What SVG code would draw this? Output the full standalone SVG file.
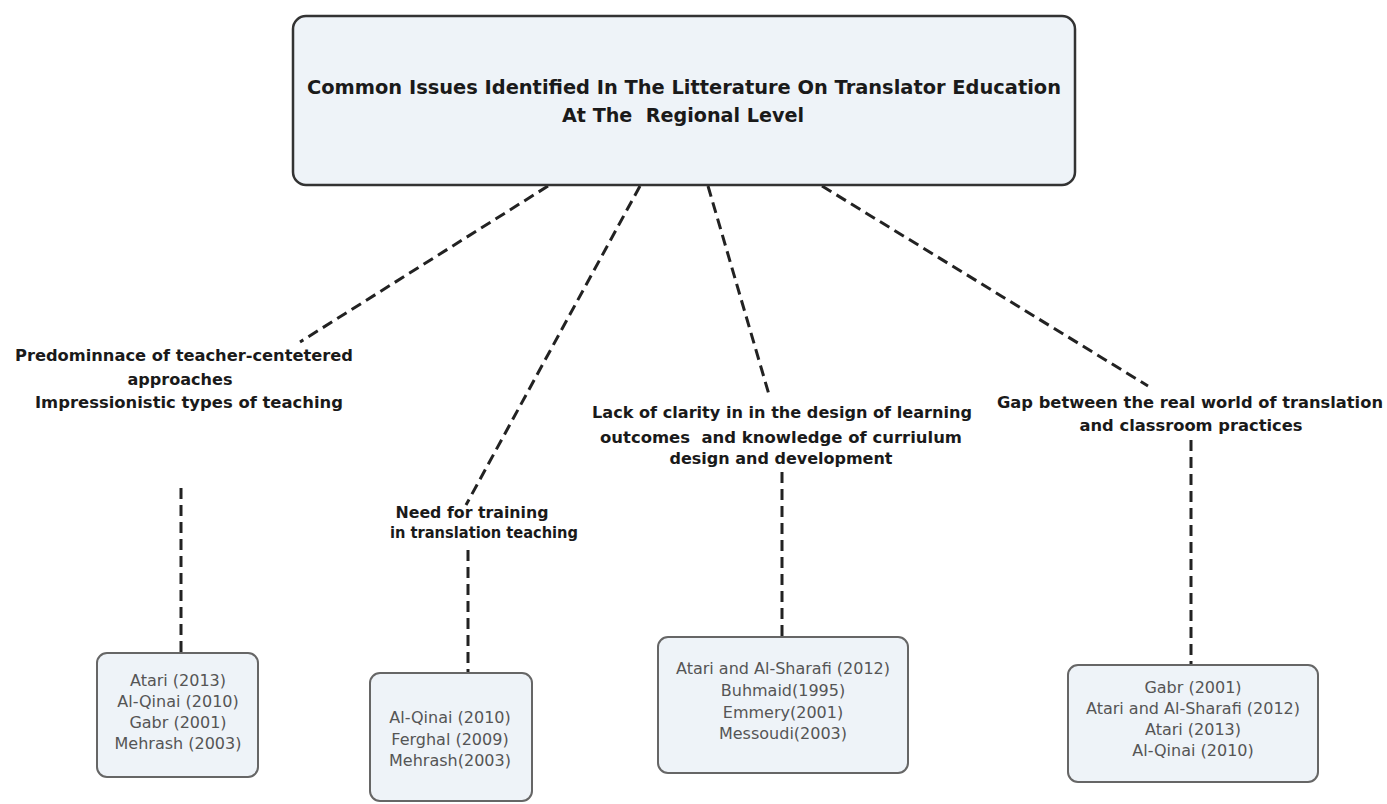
<svg xmlns="http://www.w3.org/2000/svg" width="1387" height="804" viewBox="0 0 1387 804">
<style>
.bg{fill:#ffffff}
.main{fill:#eef3f8;stroke:#333;stroke-width:2.5}
.ref{fill:#eef3f8;stroke:#666;stroke-width:2}
.title{font-family:"DejaVu Sans",Verdana,sans-serif;font-weight:bold;font-size:19px;fill:#1a1a1a;text-anchor:middle}
.lbl{font-family:"DejaVu Sans",Verdana,sans-serif;font-weight:bold;font-size:16px;fill:#1a1a1a;text-anchor:middle}
.cit{font-family:"DejaVu Sans",Verdana,sans-serif;font-size:16px;fill:#555;text-anchor:middle}
.con{fill:none;stroke:#222;stroke-width:3;stroke-dasharray:11 6}
</style>
<rect class="bg" x="0" y="0" width="1387" height="804"/>
<g id="connectors">
<line class="con" x1="548" y1="186" x2="300" y2="342"/>
<line class="con" x1="640" y1="186" x2="466" y2="505"/>
<line class="con" x1="708" y1="186" x2="770" y2="398"/>
<line class="con" x1="822" y1="186" x2="1148" y2="386"/>
<line class="con" x1="181" y1="488" x2="181" y2="653"/>
<line class="con" x1="468" y1="550" x2="468" y2="673"/>
<line class="con" x1="782" y1="472" x2="782" y2="637"/>
<line class="con" x1="1191" y1="440" x2="1191" y2="665"/>
</g>
<g id="root">
<rect class="main" x="293" y="16" width="782" height="169" rx="13"/>
<text class="title" x="684" y="94" textLength="754" lengthAdjust="spacingAndGlyphs">Common Issues Identified In The Litterature On Translator Education</text>
<text class="title" x="683" y="122" textLength="242" lengthAdjust="spacingAndGlyphs" xml:space="preserve">At The  Regional Level</text>
</g>
<g id="issue1">
<text class="lbl" x="184" y="361" textLength="338" lengthAdjust="spacingAndGlyphs">Predominnace of teacher-centetered</text>
<text class="lbl" x="180" y="385" textLength="105" lengthAdjust="spacingAndGlyphs">approaches</text>
<text class="lbl" x="189" y="408" textLength="308" lengthAdjust="spacingAndGlyphs">Impressionistic types of teaching</text>
</g>
<g id="issue2">
<text class="lbl" x="472" y="518" textLength="153" lengthAdjust="spacingAndGlyphs">Need for training</text>
<text class="lbl" x="484" y="538" textLength="188" lengthAdjust="spacingAndGlyphs">in translation teaching</text>
</g>
<g id="issue3">
<text class="lbl" x="782" y="418" textLength="380" lengthAdjust="spacingAndGlyphs">Lack of clarity in in the design of learning</text>
<text class="lbl" x="781" y="443" textLength="362" lengthAdjust="spacingAndGlyphs" xml:space="preserve">outcomes  and knowledge of curriulum</text>
<text class="lbl" x="781" y="464" textLength="223" lengthAdjust="spacingAndGlyphs">design and development</text>
</g>
<g id="issue4">
<text class="lbl" x="1190" y="408" textLength="386" lengthAdjust="spacingAndGlyphs">Gap between the real world of translation</text>
<text class="lbl" x="1191" y="431" textLength="223" lengthAdjust="spacingAndGlyphs">and classroom practices</text>
</g>
<g id="refs1">
<rect class="ref" x="97" y="653" width="161" height="124" rx="10"/>
<text class="cit" x="178" y="686">Atari (2013)</text>
<text class="cit" x="178" y="707">Al-Qinai (2010)</text>
<text class="cit" x="178" y="728">Gabr (2001)</text>
<text class="cit" x="178" y="749">Mehrash (2003)</text>
</g>
<g id="refs2">
<rect class="ref" x="370" y="673" width="162" height="128" rx="10"/>
<text class="cit" x="450" y="723">Al-Qinai (2010)</text>
<text class="cit" x="450" y="745">Ferghal (2009)</text>
<text class="cit" x="450" y="766">Mehrash(2003)</text>
</g>
<g id="refs3">
<rect class="ref" x="658" y="637" width="250" height="136" rx="10"/>
<text class="cit" x="783" y="674">Atari and Al-Sharafi (2012)</text>
<text class="cit" x="783" y="696">Buhmaid(1995)</text>
<text class="cit" x="783" y="718">Emmery(2001)</text>
<text class="cit" x="783" y="739">Messoudi(2003)</text>
</g>
<g id="refs4">
<rect class="ref" x="1068" y="665" width="250" height="117" rx="10"/>
<text class="cit" x="1193" y="693">Gabr (2001)</text>
<text class="cit" x="1193" y="714">Atari and Al-Sharafi (2012)</text>
<text class="cit" x="1193" y="735">Atari (2013)</text>
<text class="cit" x="1193" y="756">Al-Qinai (2010)</text>
</g>
</svg>
